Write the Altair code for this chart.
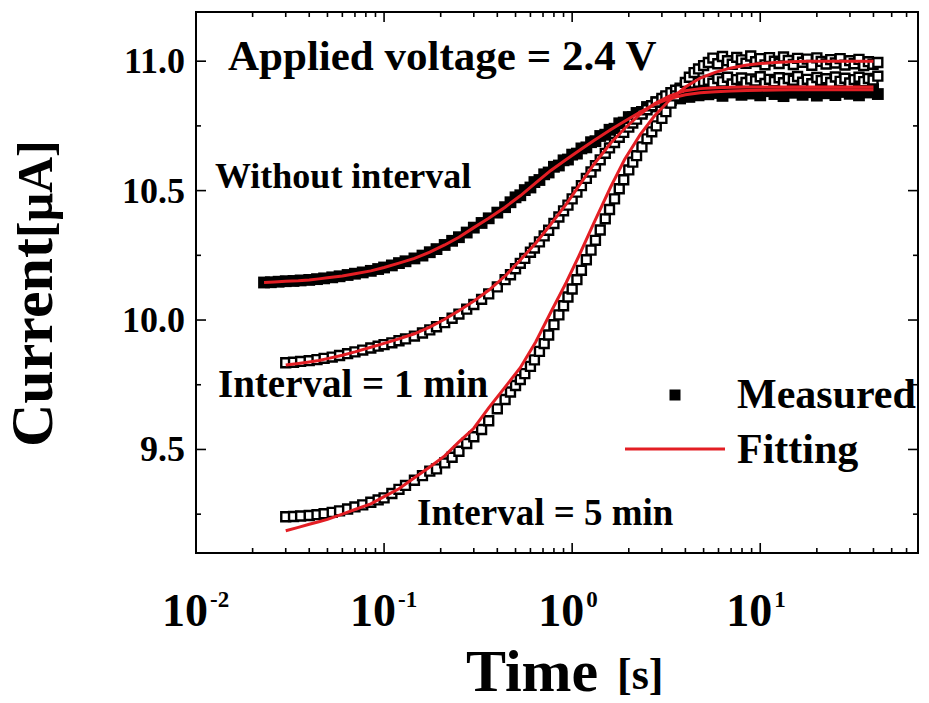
import altair as alt
import pandas as pd

# ---- measured current traces (time in s, current in uA) ----
t_early = [
    0.030, 0.033, 0.036, 0.040, 0.044, 0.048, 0.053, 0.058, 0.064, 0.070,
    0.077, 0.085, 0.093, 0.10, 0.11, 0.12, 0.13, 0.145, 0.16, 0.175,
    0.19, 0.21, 0.23, 0.25, 0.275, 0.30, 0.33, 0.36, 0.40, 0.44,
    0.47,
]
t_late = [
    0.5, 0.53, 0.56, 0.6, 0.63, 0.67, 0.71, 0.75, 0.8, 0.85,
    0.9, 0.95, 1.0, 1.06, 1.12, 1.19, 1.26, 1.33, 1.41, 1.5,
    1.58, 1.68, 1.78, 1.88, 2.0, 2.1, 2.2, 2.35, 2.5, 2.65,
    2.8, 3.0, 3.15, 3.35, 3.55, 3.75, 4.0, 4.2, 4.45, 4.7,
    5.0,
    5.3, 5.6, 5.95, 6.3, 6.7, 7.1, 7.5, 7.95, 8.4, 8.9,
    9.45, 10, 10.6, 11.2, 11.9, 12.6, 13.3, 14.1, 15, 15.8,
    16.8, 17.8, 18.8, 20, 21.1, 22.4, 23.7, 25.1, 26.6, 28.2,
    29.9, 31.6, 33.5, 35.5, 37.6, 39.8, 42.2,
]
t_meas = t_early + t_late
t_without = [0.023, 0.025, 0.0275] + t_meas

i_without = [
    10.145, 10.146, 10.148,
    10.150, 10.151, 10.153, 10.155, 10.158, 10.161, 10.165, 10.169, 10.174, 10.179,
    10.184, 10.190, 10.197, 10.203, 10.211, 10.220, 10.227, 10.238, 10.249, 10.262,
    10.274, 10.290, 10.306, 10.320, 10.338, 10.357, 10.375, 10.393, 10.415, 10.436,
    10.455,
    10.474, 10.482, 10.502, 10.512, 10.533, 10.541, 10.563, 10.570, 10.592, 10.597,
    10.617, 10.620, 10.639, 10.643, 10.663, 10.667, 10.687, 10.691, 10.711, 10.716,
    10.735, 10.739, 10.760, 10.763, 10.784, 10.784, 10.800, 10.804, 10.823, 10.825,
    10.842, 10.846, 10.859, 10.850, 10.866, 10.856, 10.874, 10.862, 10.881, 10.868,
    10.888,
    10.872, 10.893, 10.877, 10.866, 10.890, 10.879, 10.895, 10.870, 10.886, 10.875,
    10.897, 10.868, 10.884, 10.892, 10.873, 10.889, 10.865, 10.894, 10.878, 10.887,
    10.870, 10.896, 10.880, 10.867, 10.891, 10.876, 10.888, 10.869, 10.893, 10.881,
    10.874, 10.890, 10.868, 10.886, 10.879, 10.892, 10.873,
]
i_1min = [
    9.835, 9.837, 9.840, 9.843, 9.847, 9.852, 9.857, 9.863, 9.870, 9.877,
    9.884, 9.892, 9.899, 9.905, 9.912, 9.920, 9.927, 9.938, 9.950, 9.962,
    9.974, 9.990, 10.007, 10.023, 10.042, 10.060, 10.080, 10.101, 10.128, 10.156,
    10.175,
    10.198, 10.219, 10.238, 10.262, 10.278, 10.302, 10.325, 10.347, 10.373, 10.398,
    10.422, 10.444, 10.468, 10.494, 10.519, 10.547, 10.572, 10.596, 10.619, 10.644,
    10.665, 10.686, 10.706, 10.725, 10.745, 10.761, 10.776, 10.796, 10.812, 10.828,
    10.842, 10.856, 10.866, 10.878, 10.888, 10.896, 10.905, 10.910, 10.915, 10.919,
    10.922,
    10.926, 10.915, 10.933, 10.920, 10.938, 10.912, 10.929, 10.935, 10.918, 10.931,
    10.924, 10.940, 10.914, 10.930, 10.921, 10.936, 10.917, 10.933, 10.926, 10.941,
    10.919, 10.930, 10.913, 10.937, 10.925, 10.932, 10.918, 10.939, 10.922, 10.934,
    10.916, 10.929, 10.938, 10.921, 10.933, 10.927, 10.942,
]
i_5min = [
    9.240, 9.241, 9.243, 9.245, 9.248, 9.252, 9.257, 9.263, 9.270, 9.278,
    9.286, 9.296, 9.305, 9.313, 9.330, 9.346, 9.361, 9.381, 9.399, 9.416,
    9.425, 9.448, 9.470, 9.493, 9.523, 9.549, 9.577, 9.611, 9.657, 9.693,
    9.722,
    9.747, 9.770, 9.793, 9.821, 9.846, 9.879, 9.909, 9.942, 9.982, 10.020,
    10.055, 10.089, 10.120, 10.156, 10.192, 10.233, 10.270, 10.308, 10.348, 10.391,
    10.427, 10.468, 10.507, 10.542, 10.580, 10.610, 10.635, 10.669, 10.700, 10.727,
    10.750, 10.779, 10.805, 10.838, 10.866, 10.890, 10.918, 10.938, 10.956, 10.970,
    10.983,
    10.995, 11.012, 10.990, 11.018, 11.002, 10.988, 11.015, 11.005, 10.992, 11.020,
    10.998, 11.010, 10.986, 11.014, 11.000, 10.991, 11.016, 11.003, 10.987, 11.011,
    10.996, 11.008, 10.984, 11.013, 10.999, 10.989, 11.006, 10.993, 11.010, 10.985,
    11.002, 10.990, 11.007, 10.983, 10.998, 10.988, 10.995,
]

# ---- fitted curves ----
t_fit = [
    0.030, 0.035, 0.040, 0.045, 0.050, 0.06, 0.07, 0.085, 0.10, 0.12,
    0.145, 0.175, 0.21, 0.25, 0.30, 0.36, 0.44, 0.53, 0.64, 0.77,
    0.93, 1.1, 1.3, 1.6, 1.9, 2.3, 2.75, 3.3, 4.0, 4.8,
    5.8, 7.0, 8.5, 10, 12, 14.5, 17.5, 21, 25, 30,
    36, 40,
]
t_fit_without = [0.023, 0.026] + t_fit

fit_without = [
    10.145, 10.147,
    10.150, 10.152, 10.155, 10.159, 10.163, 10.170, 10.179, 10.190, 10.203, 10.220,
    10.238, 10.262, 10.290, 10.320, 10.357, 10.393, 10.436, 10.480, 10.530, 10.578,
    10.620, 10.657, 10.693, 10.735, 10.768, 10.803, 10.833, 10.856, 10.870, 10.878,
    10.882, 10.885, 10.887, 10.888, 10.889, 10.890, 10.890, 10.890, 10.890, 10.890,
    10.890, 10.890,
]
fit_1min = [
    9.826, 9.832, 9.838, 9.844, 9.851, 9.864, 9.877, 9.895, 9.910, 9.927,
    9.947, 9.973, 10.003, 10.036, 10.073, 10.115, 10.170, 10.232, 10.297, 10.370,
    10.448, 10.524, 10.600, 10.683, 10.740, 10.795, 10.836, 10.866, 10.886, 10.894,
    10.897, 10.899, 10.900, 10.900, 10.900, 10.900, 10.900, 10.900, 10.900, 10.900,
    10.900, 10.900,
]
fit_5min = [
    9.186, 9.199, 9.211, 9.221, 9.230, 9.250, 9.268, 9.290, 9.318, 9.348,
    9.391, 9.432, 9.475, 9.529, 9.582, 9.661, 9.741, 9.816, 9.915, 10.030,
    10.145, 10.256, 10.372, 10.513, 10.620, 10.716, 10.790, 10.850, 10.900, 10.935,
    10.958, 10.974, 10.985, 10.991, 10.995, 10.998, 11.000, 11.000, 11.000, 11.000,
    11.000, 11.000,
]

# ---- axis ticks and labels ----
x_major = [0.1, 1, 10]
x_minor = [0.02, 0.03, 0.04, 0.05, 0.06, 0.07, 0.08, 0.09,
           0.2, 0.3, 0.4, 0.5, 0.6, 0.7, 0.8, 0.9,
           2, 3, 4, 5, 6, 7, 8, 9,
           20, 30, 40, 50, 60]
x_label_at = [0.01, 0.1, 1, 10]
x_label_exp = ["-2", "-1", "0", "1"]
y_major = [9.5, 10.0, 10.5, 11.0]
y_minor = [9.25, 9.75, 10.25, 10.75]

W, H = 722, 541
FONT = "Liberation Serif"
RED = "#e31e24"

xs = alt.Scale(type="log", domain=[0.01, 69], nice=False)
ys = alt.Scale(domain=[9.1, 11.19], nice=False, zero=False)

meas_w = pd.DataFrame({"t": t_without, "i": i_without})
meas_1 = pd.DataFrame({"t": t_meas, "i": i_1min})
meas_5 = pd.DataFrame({"t": t_meas, "i": i_5min})
fit_w = pd.DataFrame({"t": t_fit_without, "i": fit_without})
fit_1 = pd.DataFrame({"t": t_fit, "i": fit_1min})
fit_5 = pd.DataFrame({"t": t_fit, "i": fit_5min})

X = alt.X("t:Q", scale=xs, axis=None)
Y = alt.Y("i:Q", scale=ys, axis=None)

filled = alt.Chart(meas_w).mark_square(color="black", size=140, opacity=1).encode(x=X, y=Y)


def hollow(df):
    return alt.Chart(df).mark_point(shape="square", filled=True, fill="white",
                                    stroke="black", strokeWidth=2.4, size=80,
                                    opacity=1).encode(x=X, y=Y)


def fit_line(df):
    return alt.Chart(df).mark_line(color=RED, strokeWidth=3).encode(x=X, y=Y)


# inward tick marks on all four sides
def xticks(vals, length):
    df = pd.DataFrame({"t": vals})
    base = alt.Chart(df).mark_rule(color="black", strokeWidth=1.6)
    bottom = base.encode(x=X, y=alt.value(H), y2=alt.value(H - length))
    top = base.encode(x=X, y=alt.value(0), y2=alt.value(length))
    return bottom + top


def yticks(vals, length):
    df = pd.DataFrame({"i": vals})
    base = alt.Chart(df).mark_rule(color="black", strokeWidth=1.6)
    left = base.encode(y=Y, x=alt.value(0), x2=alt.value(length))
    right = base.encode(y=Y, x=alt.value(W), x2=alt.value(W - length))
    return left + right


# x tick labels written as 10 with a raised exponent
xl = pd.DataFrame({"t": x_label_at, "e": x_label_exp, "b": ["10"] * len(x_label_at)})
x_base = alt.Chart(xl).mark_text(font=FONT, fontWeight="bold", fontSize=46, align="right",
                                 baseline="alphabetic", dx=12, color="black").encode(
    x=X, y=alt.value(H + 73), text="b:N")
x_exp = alt.Chart(xl).mark_text(font=FONT, fontWeight="bold", fontSize=23, align="left",
                                baseline="alphabetic", dx=14, color="black").encode(
    x=X, y=alt.value(H + 54), text="e:N")

# y tick labels
yl = pd.DataFrame({"i": y_major, "s": [f"{v:.1f}" for v in y_major]})
y_lab = alt.Chart(yl).mark_text(font=FONT, fontWeight="bold", fontSize=36, align="right",
                                baseline="alphabetic", dx=-11, dy=12, color="black").encode(
    x=alt.value(0), y=Y, text="s:N")


def label(text, x, y, size, angle=0):
    return alt.Chart(pd.DataFrame({"s": [text]})).mark_text(
        font=FONT, fontWeight="bold", fontSize=size, align="left",
        baseline="alphabetic", color="black", angle=angle).encode(
        x=alt.value(x), y=alt.value(y), text="s:N")


annotations = (
    label("Applied voltage = 2.4 V", 32, 58, 43)
    + label("Without interval", 19, 176, 36)
    + label("Interval = 1 min", 22, 385, 39)
    + label("Interval = 5 min", 221, 513, 37)
)

# legend
legend_sym = alt.Chart(pd.DataFrame({"s": ["Measured"]})).mark_square(
    color="black", size=121, opacity=1).encode(x=alt.value(479), y=alt.value(383))
legend_line = alt.Chart(pd.DataFrame({"s": ["Fitting"]})).mark_rule(
    color=RED, strokeWidth=3).encode(x=alt.value(429), x2=alt.value(529), y=alt.value(437))
legend = (legend_sym + legend_line
          + label("Measured", 541, 396, 42)
          + label("Fitting", 541, 451, 42))

# axis titles
titles = (
    label("Current", -144, 435, 60, angle=270)
    + label("[\u03bcA]", -144, 226, 50, angle=270)
    + label("Time", 466 - 196, 691 - 12, 60)
    + label("[s]", 617 - 196, 689 - 12, 44)
)

chart = alt.layer(
    filled, hollow(meas_1), hollow(meas_5),
    fit_line(fit_w), fit_line(fit_1), fit_line(fit_5),
    xticks(x_major, 10), xticks(x_minor, 5),
    yticks(y_major, 10), yticks(y_minor, 5),
    x_base, x_exp, y_lab, annotations, legend, titles,
).properties(
    width=W, height=H,
    autosize=alt.AutoSizeParams(type="none"),
    padding={"left": 196, "top": 12, "right": 11, "bottom": 150},
).configure_view(stroke="black", strokeWidth=2)

chart.save("out.html", embed_options={"renderer": "svg", "actions": False})
